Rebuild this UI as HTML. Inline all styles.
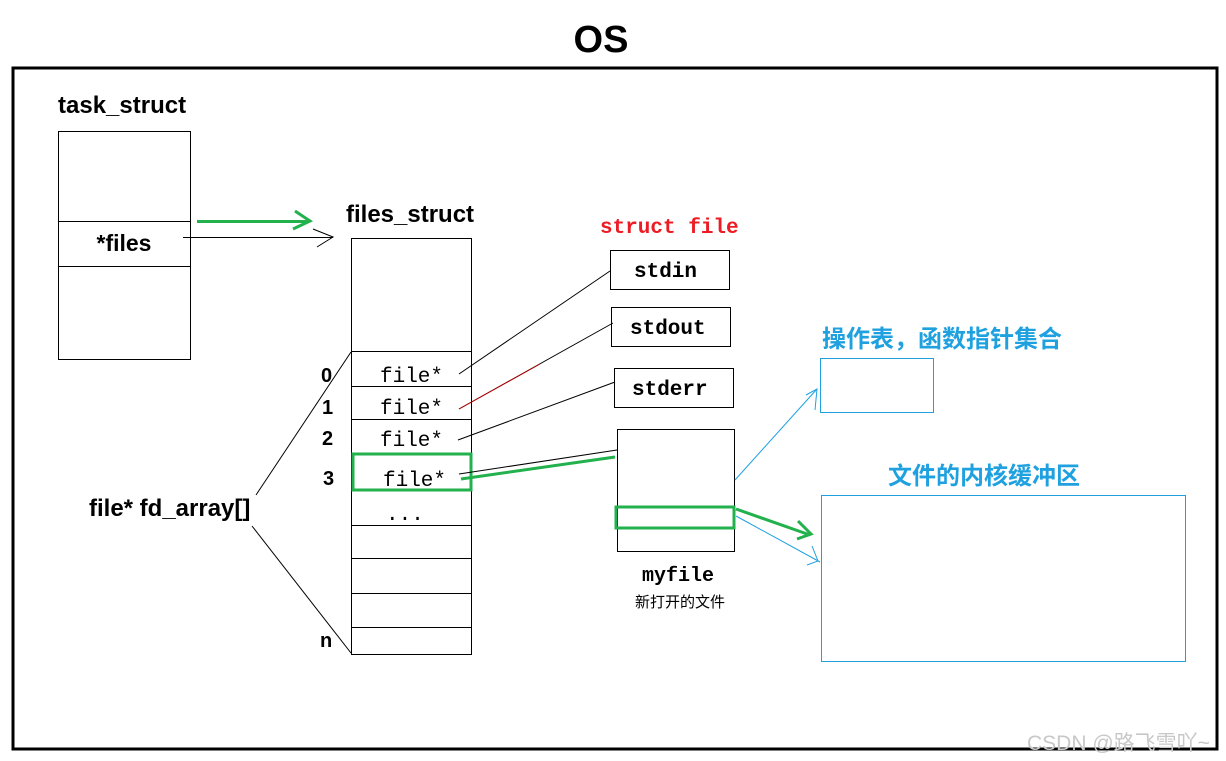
<!DOCTYPE html>
<html><head><meta charset="utf-8"><style>
html,body{margin:0;padding:0;background:#fff;width:1226px;height:761px;overflow:hidden}
svg{display:block}
.b{font-family:"Liberation Sans","Noto Sans CJK SC",sans-serif;font-weight:bold}
.m{font-family:"Liberation Mono","DejaVu Sans Mono",monospace}
.c{font-family:"Liberation Sans","Noto Sans CJK SC",sans-serif}
</style></head><body>
<svg width="1226" height="761" viewBox="0 0 1226 761" xmlns="http://www.w3.org/2000/svg">
<text x="601" y="52" text-anchor="middle" class="b" font-size="38">OS</text>
<rect x="13" y="68" width="1204" height="681" fill="none" stroke="#000" stroke-width="3"/>

<text x="58" y="113" class="b" font-size="24">task_struct</text>
<rect x="58.5" y="131.5" width="132" height="228" fill="none" stroke="#000"/>
<line x1="58" y1="221.5" x2="190" y2="221.5" stroke="#000"/>
<line x1="58" y1="266.5" x2="190" y2="266.5" stroke="#000"/>
<text x="124" y="251" text-anchor="middle" class="b" font-size="23">*files</text>
<line x1="197" y1="221.5" x2="308" y2="221.5" stroke="#22b14c" stroke-width="3"/>
<polyline points="295,211 310,221 293,229" fill="none" stroke="#22b14c" stroke-width="3"/>
<line x1="183" y1="237.5" x2="333" y2="237.5" stroke="#000"/>
<polyline points="313,229 333,237 317,247" fill="none" stroke="#000"/>

<text x="346" y="222" class="b" font-size="24">files_struct</text>
<rect x="351.5" y="238.5" width="120" height="416" fill="none" stroke="#000"/>
<g stroke="#000">
<line x1="351" y1="351.5" x2="471" y2="351.5"/>
<line x1="351" y1="386.5" x2="471" y2="386.5"/>
<line x1="351" y1="419.5" x2="471" y2="419.5"/>
<line x1="351" y1="525.5" x2="471" y2="525.5"/>
<line x1="351" y1="558.5" x2="471" y2="558.5"/>
<line x1="351" y1="593.5" x2="471" y2="593.5"/>
<line x1="351" y1="627.5" x2="471" y2="627.5"/>
</g>
<rect x="353" y="454" width="118" height="36" fill="none" stroke="#22b14c" stroke-width="3"/>
<g class="m" font-size="21">
<text x="380" y="382">file*</text>
<text x="380" y="414">file*</text>
<text x="380" y="446">file*</text>
<text x="383" y="486">file*</text>
<text x="386" y="520">...</text>
</g>
<g class="b" font-size="20">
<text x="321" y="382">0</text>
<text x="322" y="414">1</text>
<text x="322" y="445">2</text>
<text x="323" y="485">3</text>
<text x="320" y="647">n</text>
</g>
<text x="89" y="516" class="b" font-size="24">file* fd_array[]</text>
<line x1="256" y1="495" x2="351" y2="352" stroke="#000"/>
<line x1="252" y1="526" x2="351" y2="653" stroke="#000"/>

<text x="600" y="233" class="m" font-size="21" font-weight="bold" fill="#ed1c24">struct file</text>
<rect x="610.5" y="250.5" width="119" height="39" fill="none" stroke="#000"/>
<text x="634" y="277" class="m" font-size="21" font-weight="bold">stdin</text>
<rect x="611.5" y="307.5" width="119" height="39" fill="none" stroke="#000"/>
<text x="630" y="334" class="m" font-size="21" font-weight="bold">stdout</text>
<rect x="614.5" y="368.5" width="119" height="39" fill="none" stroke="#000"/>
<text x="632" y="395" class="m" font-size="21" font-weight="bold">stderr</text>
<line x1="459" y1="374" x2="610" y2="271" stroke="#000"/>
<line x1="459" y1="409" x2="613" y2="323" stroke="#000"/>
<line x1="459" y1="409" x2="540" y2="364" stroke="#c00000" stroke-width="1"/>
<line x1="458" y1="440" x2="615" y2="382" stroke="#000"/>
<line x1="459" y1="474" x2="617" y2="450" stroke="#000"/>
<line x1="461" y1="479" x2="615" y2="457" stroke="#22b14c" stroke-width="3"/>

<rect x="617.5" y="429.5" width="117" height="122" fill="none" stroke="#000"/>
<rect x="616" y="507" width="118" height="21" fill="none" stroke="#22b14c" stroke-width="3"/>
<text x="678" y="581" text-anchor="middle" class="m" font-size="20" font-weight="bold">myfile</text>
<text x="680" y="607" text-anchor="middle" class="c" font-size="15">新打开的文件</text>

<text x="822" y="347" class="b" font-size="24" fill="#1fa1e0">操作表，函数指针集合</text>
<rect x="820.5" y="358.5" width="113" height="54" fill="none" stroke="#1fa1e0"/>
<line x1="735" y1="480" x2="817" y2="389" stroke="#1fa1e0"/>
<polyline points="806,395 817,389 815,410" fill="none" stroke="#1fa1e0"/>

<text x="984" y="484" text-anchor="middle" class="b" font-size="24" fill="#1fa1e0">文件的内核缓冲区</text>
<rect x="821.5" y="495.5" width="364" height="166" fill="none" stroke="#1fa1e0"/>
<line x1="736" y1="516" x2="820" y2="562" stroke="#1fa1e0"/>
<polyline points="812,546 818,561 807,565" fill="none" stroke="#1fa1e0"/>
<line x1="736" y1="509" x2="810" y2="535" stroke="#22b14c" stroke-width="3"/>
<polyline points="798,521 811,534 797,539" fill="none" stroke="#22b14c" stroke-width="3"/>

<text x="1027" y="750" class="c" font-size="21" fill="#c8c8c8">CSDN @路飞雪吖~</text>
</svg>
</body></html>
